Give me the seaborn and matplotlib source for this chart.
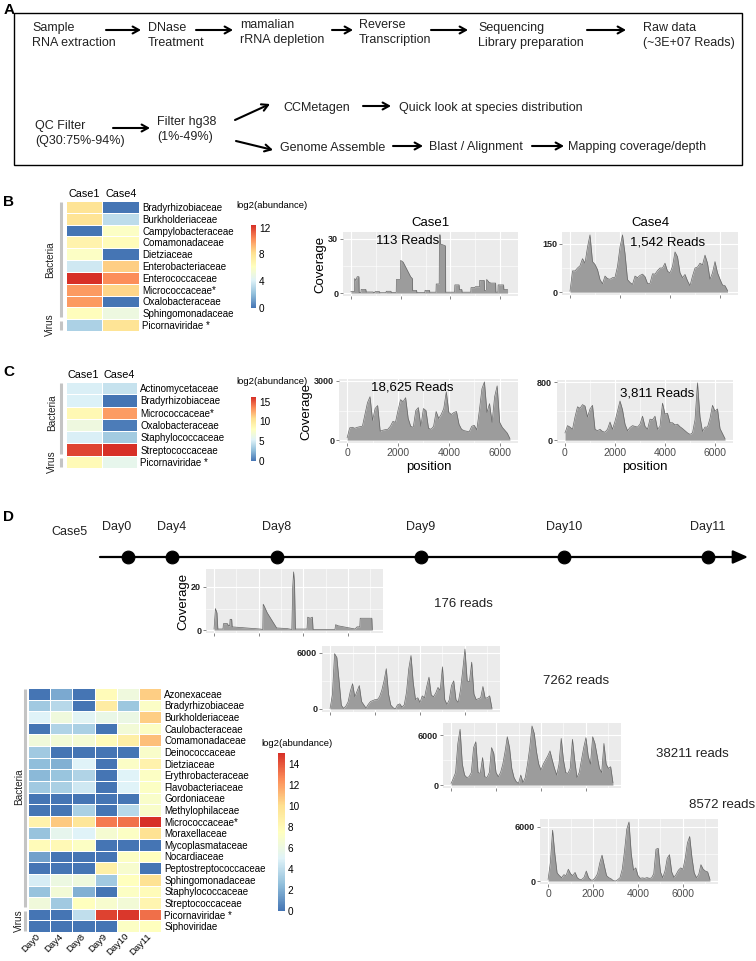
import pandas as pd
import seaborn as sns
import matplotlib.pyplot as plt
from matplotlib.colors import LinearSegmentedColormap
from matplotlib.patches import Rectangle

W, H = 756, 961

# ---- panel B heatmap (log2 abundance)
b_families = ['Bradyrhizobiaceae', 'Burkholderiaceae', 'Campylobacteraceae', 'Comamonadaceae',
              'Dietziaceae', 'Enterobacteriaceae', 'Enterococcaceae', 'Micrococcaceae*',
              'Oxalobacteraceae', 'Sphingomonadaceae', 'Picornaviridae *']
b_case1 = [8.0, 8.0, 0.0, 7.0, 6.0, 3.7, 12.4, 10.0, 10.0, 6.3, 2.8]
b_case4 = [0.0, 3.2, 6.0, 6.4, 0.0, 8.7, 10.3, 8.5, 0.0, 5.0, 8.0]

# ---- panel C heatmap
c_families = ['Actinomycetaceae', 'Bradyrhizobiaceae', 'Micrococcaceae*', 'Oxalobacteraceae',
              'Staphylococcaceae', 'Streptococcaceae', 'Picornaviridae *']
c_case1 = [5.2, 5.3, 8.7, 6.6, 5.2, 15.6, 8.6]
c_case4 = [4.5, 0.0, 13.0, 0.3, 3.3, 16.2, 6.0]

# ---- panel D heatmap
d_families = ['Azonexaceae', 'Bradyrhizobiaceae', 'Burkholderiaceae', 'Caulobacteraceae',
              'Comamonadaceae', 'Deinococcaceae', 'Dietziaceae', 'Erythrobacteraceae',
              'Flavobacteriaceae', 'Gordoniaceae', 'Methylophilaceae', 'Micrococcaceae*',
              'Moraxellaceae', 'Mycoplasmataceae', 'Nocardiaceae', 'Peptostreptococcaceae',
              'Sphingomonadaceae', 'Staphylococcaceae', 'Streptococcaceae',
              'Picornaviridae *', 'Siphoviridae']
d_days = ['Day0', 'Day4', 'Day8', 'Day9', 'Day10', 'Day11']
d_day0 = [0, 3.0, 5.0, 0, 6.3, 3.0, 2.5, 2.3, 3.0, 0, 0, 8.5, 2.7, 7.8, 1.5, 0, 4.7, 2.7, 6.3, 0, 0]
d_day4 = [1.8, 3.7, 6.2, 3.5, 6.5, 0, 2.0, 2.8, 3.3, 0, 0, 10.7, 5.5, 8.0, 0, 0, 6.0, 6.5, 3.0, 0, 0]
d_day8 = [0, 0, 5.2, 3.3, 6.6, 0, 5.0, 3.5, 4.5, 0, 3.3, 9.5, 5.0, 7.3, 0, 0, 6.2, 2.0, 7.5, 4.0, 0]
d_day9 = [7.8, 9.0, 5.8, 0, 7.8, 0, 0, 0, 0, 0, 0, 13.0, 6.7, 0, 0, 8.8, 3.0, 0, 6.8, 14.5, 0]
d_day10 = [6.2, 2.9, 5.9, 6.5, 8.8, 0, 7.2, 5.0, 5.0, 0, 3.7, 13.2, 7.3, 0, 7.3, 6.8, 7.5, 7.3, 6.5, 14.8, 7.3]
d_day11 = [10.5, 7.2, 10.5, 7.3, 11.0, 7.0, 8.5, 7.3, 7.3, 7.0, 7.0, 15.0, 9.8, 0, 7.5, 0, 9.8, 7.8, 8.3, 13.3, 7.5]

# ---- coverage profiles, panels B and C (positions every 100 nt)
pos_bc = [0, 100, 200, 300, 400, 500, 600, 700, 800, 900,
          1000, 1100, 1200, 1300, 1400, 1500, 1600, 1700, 1800, 1900,
          2000, 2100, 2200, 2300, 2400, 2500, 2600, 2700, 2800, 2900,
          3000, 3100, 3200, 3300, 3400, 3500, 3600, 3700, 3800, 3900,
          4000, 4100, 4200, 4300, 4400, 4500, 4600, 4700, 4800, 4900,
          5000, 5100, 5200, 5300, 5400, 5500, 5600, 5700, 5800, 5900,
          6000, 6100, 6200, 6300, 6400]

# Case1 in panel B is sparse, given as (position, coverage) pairs
cov_b1_pos = [0, 140, 150, 200, 250, 320, 330, 400, 410, 600,
              610, 890, 900, 960, 970, 1150, 1160, 1410, 1420, 1610,
              1620, 1820, 1830, 1990, 2000, 2100, 2400, 2470, 2480, 2640,
              2650, 2970, 2980, 3160, 3170, 3420, 3430, 3550, 3560, 3590,
              3600, 3800, 3810, 4170, 4180, 4350, 4360, 4460, 4470, 4820,
              4830, 4990, 5000, 5170, 5180, 5360, 5370, 5450, 5460, 5550,
              5630, 5820, 5830, 5910, 5920, 6140, 6150, 6300]
cov_b1 = [0.8, 0.8, 8, 7, 9, 9, 0.3, 0.3, 2, 2,
          0.6, 0.6, 0.2, 0.2, 0.8, 0.8, 0.2, 0.2, 1, 1,
          0.4, 0.4, 7.5, 7.5, 18, 17, 9, 8, 1.5, 1.5,
          0.3, 0.3, 1.5, 1.5, 0.5, 0.5, 5, 5, 32, 32,
          27, 26, 0.5, 0.5, 4.5, 4.5, 2, 2, 0.5, 0.5,
          3, 3, 3.5, 3.5, 7, 7, 1.5, 1.5, 7.5, 6,
          5.5, 5.5, 0.5, 0.5, 4.5, 4.5, 2, 2]
cov_b4 = [3, 66, 66, 75, 82, 104, 90, 140, 178, 95,
          86, 70, 39, 26, 50, 42, 40, 45, 46, 80,
          140, 178, 120, 39, 30, 24, 50, 45, 52, 56,
          48, 27, 27, 57, 56, 67, 75, 75, 90, 65,
          60, 80, 125, 110, 60, 45, 55, 35, 20, 50,
          75, 78, 90, 85, 115, 90, 40, 60, 95, 60,
          40, 22, 20, 5]
cov_c1 = [120, 620, 650, 600, 650, 680, 700, 1300, 1900, 2200,
          1000, 1600, 1750, 450, 500, 530, 550, 700, 950, 900,
          1500, 2050, 1950, 2150, 1100, 700, 650, 1500, 1650, 700,
          1600, 1500, 600, 550, 700, 1450, 1100, 1300, 1600, 2450,
          1400, 1300, 1400, 1450, 800, 550, 480, 450, 420, 700,
          750, 520, 1500, 2600, 2950, 1400, 1850, 900, 2200, 2750,
          900, 650, 500, 350, 80]
cov_c4 = [100, 200, 180, 150, 320, 460, 440, 490, 470, 320,
          430, 480, 150, 130, 150, 120, 110, 150, 250, 150,
          260, 400, 540, 420, 220, 130, 175, 200, 190, 180,
          220, 330, 190, 150, 290, 280, 330, 150, 190, 510,
          360, 370, 240, 240, 210, 220, 185, 160, 130, 100,
          80, 100, 280, 790, 320, 120, 180, 180, 300, 480,
          400, 430, 160, 90, 20]

# ---- coverage profiles, panel D
pos_d = [0, 100, 200, 300, 400, 500, 600, 700, 800, 900,
         1000, 1100, 1200, 1300, 1400, 1500, 1600, 1700, 1800, 1900,
         2000, 2100, 2200, 2300, 2400, 2500, 2600, 2700, 2800, 2900,
         3000, 3100, 3200, 3300, 3400, 3500, 3600, 3700, 3800, 3900,
         4000, 4100, 4200, 4300, 4400, 4500, 4600, 4700, 4800, 4900,
         5000, 5100, 5200, 5300, 5400, 5500, 5600, 5700, 5800, 5900,
         6000, 6100, 6200, 6300, 6400, 6500, 6600, 6700, 6800, 6900,
         7000, 7100, 7200]
cov_day8_pos = [0, 60, 130, 170, 400, 420, 600, 640, 700, 720, 790, 810,
                2060, 2180, 2200, 2250, 2380, 2800, 3270, 3480, 3520, 3560, 3600, 3640,
                3980, 4160, 4190, 4300, 4400, 4430, 5410, 5440, 5550,
                6310, 6400, 6520, 6540, 7060, 7080]
cov_day8 = [0.5, 10, 8, 0.5, 0.5, 3, 3, 2, 2, 5, 5, 1.5,
            0.5, 0.3, 12, 11, 8, 1, 0.7, 0.3, 20, 27, 22, 0.5,
            0.5, 0.5, 6, 5.5, 6, 0.3, 0.3, 2.5, 2,
            0.5, 1.5, 1.5, 5.5, 5.5, 0.3]
cov_day9 = [70, 1500, 5900, 5500, 3000, 400, 70, 300, 750, 1900,
            2700, 1300, 1900, 2500, 800, 440, 100, 500, 800, 900,
            1000, 1000, 1300, 2000, 3000, 4300, 1600, 420, 150, 0,
            440, 550, 200, 450, 1800, 4300, 5700, 2800, 1000, 1200,
            700, 1400, 1200, 2400, 3400, 1500, 1300, 1700, 2300, 2000,
            4500, 1000, 500, 950, 2500, 3000, 1000, 700, 2000, 4100,
            6400, 3000, 2900, 5000, 1600, 1000, 1100, 1200, 2400, 1150,
            1200, 1400, 100]
cov_day10 = [200, 800, 1500, 5000, 6700, 2500, 1200, 900, 1000, 1500,
             4500, 5200, 1500, 1400, 3300, 1000, 900, 1500, 4500, 3800,
             1500, 1000, 1500, 2500, 4000, 5800, 4500, 2000, 900, 400,
             200, 1200, 300, 900, 2500, 4500, 7100, 6200, 4000, 2500,
             1800, 2500, 3000, 3500, 4100, 3000, 2000, 1200, 2500, 5600,
             3000, 1500, 1400, 2000, 5500, 3000, 900, 1500, 3000, 4500,
             5700, 3500, 2500, 5800, 5000, 3500, 2000, 1500, 5000, 2500,
             2000, 2200, 300]
cov_day11 = [185, 2000, 5600, 3000, 900, 600, 370, 700, 600, 1300,
             800, 600, 950, 350, 185, 185, 400, 1100, 370, 110,
             110, 370, 800, 2000, 2850, 1700, 600, 370, 250, 50,
             0, 150, 370, 1300, 3300, 5700, 6500, 3000, 1200, 1450,
             600, 300, 350, 300, 380, 300, 330, 800, 3500, 3600,
             1000, 370, 1100, 2500, 2900, 1000, 400, 740, 1200, 1450,
             1300, 2500, 4200, 4900, 2600, 900, 370, 700, 1800, 1300,
             1100, 1000, 185]

# timeline (schematic positions of the sampling days)
day_pos = [128, 172, 277, 421, 564, 708]

plt.rcParams['font.family'] = ['Liberation Sans', 'DejaVu Sans']

cmap = LinearSegmentedColormap.from_list(
    'rdylbu7', ['#4575B4', '#91BFDB', '#E0F3F8', '#FFFFBF', '#FEE090', '#FC8D59', '#D73027'])


def add_axes_px(fig, x0, y0, x1, y1):
    return fig.add_axes([x0 / W, 1 - y1 / H, (x1 - x0) / W, (y1 - y0) / H])


def draw_heatmap(fig, df, n_bact, cells, cbar, ticks, top_labels, bar_x, text_x, bact_row):
    ax = add_axes_px(fig, *cells)
    cax = add_axes_px(fig, *cbar)
    sns.heatmap(df, ax=ax, cbar_ax=cax, cmap=cmap, vmin=0, vmax=df.values.max(),
                linewidths=0.7, linecolor='white', xticklabels=True, yticklabels=True)
    ax.set_xlabel('')
    ax.set_ylabel('')
    ax.yaxis.tick_right()
    ax.set_yticklabels(df.index, rotation=0, fontsize=7.0)
    ax.tick_params(axis='y', length=0, pad=2.5)
    if top_labels:
        ax.xaxis.tick_top()
        ax.set_xticklabels(df.columns, rotation=0, fontsize=7.8)
        ax.tick_params(axis='x', length=0, pad=1.5)
    else:
        ax.set_xticklabels(df.columns, rotation=45, ha='right', va='center',
                           rotation_mode='anchor', fontsize=6.8)
        ax.tick_params(axis='x', length=0, pad=2)
    n = len(df)
    tr = ax.get_yaxis_transform()
    ax.plot([bar_x, bar_x], [0.05, n_bact - 0.15], transform=tr, clip_on=False,
            color='#C4C4C4', lw=2.2, solid_capstyle='butt')
    ax.plot([bar_x, bar_x], [n_bact + 0.15, n - 0.05], transform=tr, clip_on=False,
            color='#C4C4C4', lw=2.2, solid_capstyle='butt')
    ax.text(text_x, bact_row, 'Bacteria', transform=tr, rotation=90, ha='center',
            va='center', fontsize=7.2, color='#222222')
    ax.text(text_x, (n_bact + n) / 2, 'Virus', transform=tr, rotation=90, ha='center',
            va='center', fontsize=7.2, color='#222222')
    cb = ax.collections[0].colorbar
    cb.outline.set_visible(False)
    cb.set_ticks(ticks)
    cax.tick_params(length=0, labelsize=7.2, pad=2)
    return ax


def draw_coverage(fig, box, pos, cov, xlim, ybreak, minor_x, xlabels=False,
                  ylabel=False, title=None):
    ax = add_axes_px(fig, *box)
    ax.set_facecolor('#EBEBEB')
    ax.fill_between(pos, cov, 0, color='#9C9C9C', lw=0, zorder=2)
    sns.lineplot(x=pos, y=cov, ax=ax, color='#666666', lw=0.5, estimator=None,
                 sort=False, zorder=3)
    top = max(cov)
    ax.set_xlim(*xlim)
    ax.set_ylim(-0.05 * top, 1.05 * top)
    ax.set_xticks([0, 2000, 4000, 6000])
    ax.set_xticks(minor_x, minor=True)
    ax.set_yticks([0, ybreak])
    ax.set_yticks([ybreak / 2], minor=True)
    ax.grid(which='major', color='white', lw=0.8)
    ax.grid(which='minor', color='white', lw=0.4)
    ax.set_axisbelow(True)
    for s in ax.spines.values():
        s.set_visible(False)
    ax.tick_params(which='minor', length=0)
    ax.tick_params(which='major', length=2, width=0.5, color='#555555', pad=1.5)
    ax.tick_params(axis='y', labelsize=6.5, labelcolor='#222222')
    for lbl in ax.get_yticklabels():
        lbl.set_fontweight('bold')
    if xlabels:
        ax.tick_params(axis='x', labelsize=7.5, labelcolor='#4D4D4D')
    else:
        ax.tick_params(axis='x', labelbottom=False)
    ax.set_xlabel('')
    ax.set_ylabel('Coverage' if ylabel else '', fontsize=9.5, labelpad=1)
    if title:
        ax.set_title(title, fontsize=9.5, pad=4)
    return ax


fig = plt.figure(figsize=(W / 100, H / 100), dpi=100)

ov = fig.add_axes([0, 0, 1, 1])
ov.set_xlim(0, W)
ov.set_ylim(H, 0)
ov.axis('off')

# panel letters
for letter, y in [('A', 10), ('B', 202), ('C', 372), ('D', 517)]:
    ov.text(9, y, letter, fontsize=11, fontweight='bold', ha='center', va='center')

# ---------------- panel A: workflow
ov.add_patch(Rectangle((14, 13), 728, 152, fill=False, lw=1.0, ec='black'))
arrow = dict(arrowstyle='->,head_length=0.45,head_width=0.25', lw=1.5, color='black',
             shrinkA=0, shrinkB=0)
a_fs = 9
row1 = [(32, 35.5, 'Sample\nRNA extraction'), (148, 35.5, 'DNase\nTreatment'),
        (240, 32.5, 'mamalian\nrRNA depletion'), (359, 32.5, 'Reverse\nTranscription'),
        (478, 35.5, 'Sequencing\nLibrary preparation'), (643, 35.5, 'Raw data\n(~3E+07 Reads)')]
for x, y, s in row1:
    ov.text(x, y, s, ha='left', va='center', fontsize=a_fs, linespacing=1.25, color='#222222')
for x0, x1 in [(106, 141), (196, 233), (332, 353), (431, 468), (587, 626)]:
    ov.annotate('', xy=(x1, 30), xytext=(x0, 30), arrowprops=arrow)

row2 = [(35, 133.5, 'QC Filter\n(Q30:75%-94%)'), (157, 129.5, 'Filter hg38\n(1%-49%)'),
        (283, 108, 'CCMetagen'), (399, 108, 'Quick look at species distribution'),
        (280, 148, 'Genome Assemble'), (429, 147, 'Blast / Alignment'),
        (568, 147, 'Mapping coverage/depth')]
for x, y, s in row2:
    ov.text(x, y, s, ha='left', va='center', fontsize=a_fs, linespacing=1.25, color='#222222')
for (x0, y0), (x1, y1) in [((113, 128), (150, 128)), ((235, 120), (270, 104)),
                           ((236, 141), (273, 150)), ((363, 106), (391, 106)),
                           ((393, 146), (423, 146)), ((532, 146), (564, 146))]:
    ov.annotate('', xy=(x1, y1), xytext=(x0, y0), arrowprops=arrow)

# ---------------- panel B
df_b = pd.DataFrame({'Case1': b_case1, 'Case4': b_case4}, index=b_families)
draw_heatmap(fig, df_b, 10, (66, 201, 139, 331), (251, 225, 256, 308), [0, 4, 8, 12],
             True, -0.07, -0.22, 5.0)
ov.text(236, 206, 'log2(abundance)', fontsize=6.8, ha='left', va='center')

xlim_bc = (-320, 6720)
axb1 = draw_coverage(fig, (343, 232, 518, 296), cov_b1_pos, cov_b1, xlim_bc, 30,
                     [1000, 3000, 5000], ylabel=True, title='Case1')
axb1.text(0.37, 0.86, '113 Reads', transform=axb1.transAxes, ha='center', va='center', fontsize=9.5)
axb4 = draw_coverage(fig, (562, 232, 738, 295), pos_bc[:len(cov_b4)], cov_b4, xlim_bc, 150,
                     [1000, 3000, 5000], title='Case4')
axb4.text(0.6, 0.84, '1,542 Reads', transform=axb4.transAxes, ha='center', va='center', fontsize=9.5)

# ---------------- panel C
df_c = pd.DataFrame({'Case1': c_case1, 'Case4': c_case4}, index=c_families)
draw_heatmap(fig, df_c, 6, (66, 382, 137, 468), (251, 397, 256, 461), [0, 5, 10, 15],
             True, -0.065, -0.2, 2.5)
ov.text(236, 382, 'log2(abundance)', fontsize=6.8, ha='left', va='center')

axc1 = draw_coverage(fig, (339, 379, 518, 443), pos_bc, cov_c1, xlim_bc, 3000,
                     [1000, 3000, 5000], xlabels=True, ylabel=True)
axc1.set_xlabel('position', fontsize=9.5, labelpad=2)
axc1.text(0.41, 0.86, '18,625 Reads', transform=axc1.transAxes, ha='center', va='center', fontsize=9.5)
axc4 = draw_coverage(fig, (557, 380, 733, 443), pos_bc, cov_c4, xlim_bc, 800,
                     [1000, 3000, 5000], xlabels=True)
axc4.set_xlabel('position', fontsize=9.5, labelpad=2)
axc4.text(0.57, 0.79, '3,811 Reads', transform=axc4.transAxes, ha='center', va='center', fontsize=9.5)

# ---------------- panel D: timeline
tl = add_axes_px(fig, 95, 540, 752, 574)
tl.axis('off')
tl.annotate('', xy=(748, 0.5), xytext=(100, 0.5),
            arrowprops=dict(arrowstyle='-|>,head_length=0.9,head_width=0.4', color='black',
                            lw=1.6, shrinkA=0, shrinkB=0))
sns.scatterplot(x=day_pos, y=[0.5] * len(day_pos), ax=tl, s=85, color='black',
                edgecolor='black', zorder=3, legend=False)
tl.set_xlim(95, 752)
tl.set_ylim(0, 1)
ov.text(51, 532, 'Case5', fontsize=9, ha='left', va='center', color='#222222')
for i, (x, day) in enumerate(zip(day_pos, d_days)):
    ov.text(x + (3 if i == 0 else 0), 527, day, fontsize=9, ha='right' if i == 0 else 'center',
            va='center', color='#222222')

# panel D heatmap
df_d = pd.DataFrame({'Day0': d_day0, 'Day4': d_day4, 'Day8': d_day8, 'Day9': d_day9,
                     'Day10': d_day10, 'Day11': d_day11}, index=d_families)
draw_heatmap(fig, df_d, 19, (28, 688, 161, 932), (278, 753, 285, 911),
             [0, 2, 4, 6, 8, 10, 12, 14], False, -0.02, -0.065, 8.5)
ov.text(261, 743, 'log2(abundance)', fontsize=6.8, ha='left', va='center')

# panel D coverage plots
xlim_d = (-360, 7560)
minor_d = [1000, 3000, 5000, 7000]
axd1 = draw_coverage(fig, (206, 569, 383, 633), cov_day8_pos, cov_day8, xlim_d, 20, minor_d,
                     ylabel=True)
draw_coverage(fig, (322, 646, 500, 712), pos_d, cov_day9, xlim_d, 6000, minor_d)
draw_coverage(fig, (443, 723, 621, 788), pos_d, cov_day10, xlim_d, 6000, minor_d)
draw_coverage(fig, (540, 819, 718, 884), pos_d, cov_day11, xlim_d, 6000, minor_d, xlabels=True)

for x, y, s in [(463, 604, '176 reads'), (576, 681, '7262 reads'),
                (692, 754, '38211 reads'), (722, 805, '8572 reads')]:
    ov.text(x, y, s, fontsize=9.5, ha='center', va='center', color='#222222')

fig.savefig('out.png', dpi=100)
